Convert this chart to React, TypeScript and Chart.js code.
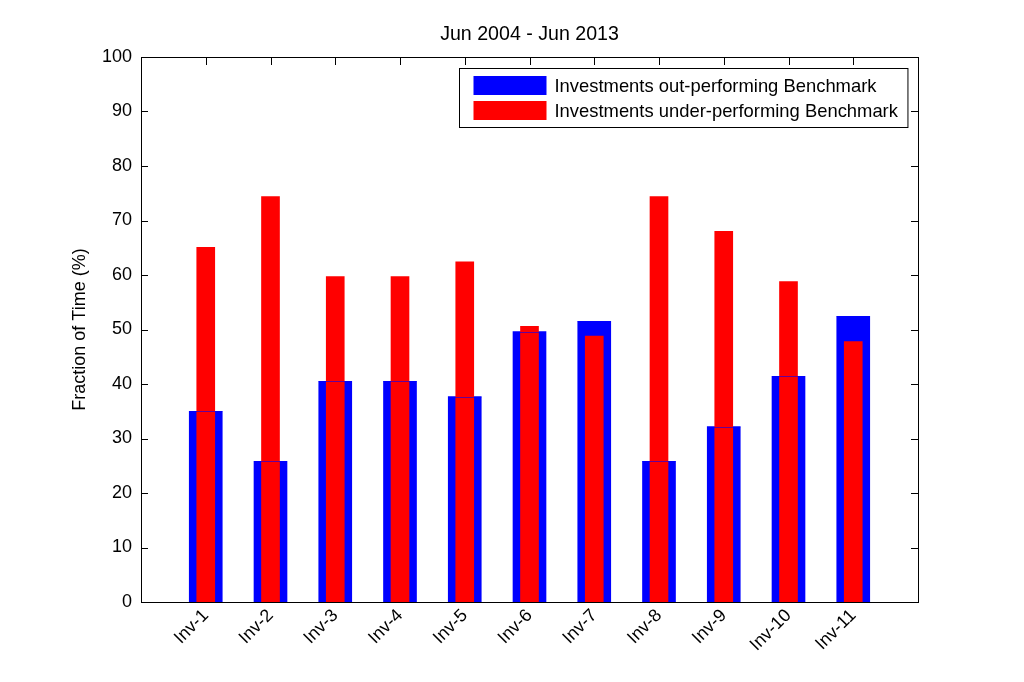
import { useEffect, useRef } from 'react';
import { Chart, registerables } from 'chart.js';

Chart.register(...registerables);

const chartTitle = 'Jun 2004 - Jun 2013';
const yAxisTitle = 'Fraction of Time (%)';
const categories = ['Inv-1', 'Inv-2', 'Inv-3', 'Inv-4', 'Inv-5', 'Inv-6', 'Inv-7', 'Inv-8', 'Inv-9', 'Inv-10', 'Inv-11'];
const outPerforming = [35.0, 25.8, 40.5, 40.5, 37.7, 49.6, 51.5, 25.8, 32.2, 41.4, 52.4];
const underPerforming = [65.1, 74.4, 59.7, 59.7, 62.4, 50.6, 48.8, 74.4, 68.0, 58.8, 47.8];
const seriesLabels = ['Investments out-performing Benchmark', 'Investments under-performing Benchmark'];
const yMin = 0;
const yMax = 100;
const yStep = 10;

const FONT = '"Liberation Sans", Arial, Helvetica, sans-serif';
const BLUE = '#0000ff';
const RED = '#ff0000';

const matlabPlugin = {
  id: 'matlabFrame',
  beforeDatasetsDraw(chart: any) {
    const { ctx, chartArea, scales } = chart;
    const { left, right, top, bottom } = chartArea;
    const x = scales.x;
    const y = scales.y;
    ctx.save();
    ctx.strokeStyle = '#000';
    ctx.lineWidth = 1;
    ctx.beginPath();
    y.ticks.forEach((t: any) => {
      const py = Math.round(y.getPixelForValue(t.value)) + 0.5;
      ctx.moveTo(left, py);
      ctx.lineTo(left + 7, py);
      ctx.moveTo(right, py);
      ctx.lineTo(right - 7, py);
    });
    categories.forEach((_c, i) => {
      const px = Math.round(x.getPixelForValue(i + 1)) + 0.5;
      ctx.moveTo(px, top);
      ctx.lineTo(px, top + 8);
      ctx.moveTo(px, bottom);
      ctx.lineTo(px, bottom - 8);
    });
    ctx.stroke();
    ctx.restore();
  },
  afterDatasetsDraw(chart: any) {
    const { ctx, chartArea } = chart;
    const { left, right, top, bottom } = chartArea;
    ctx.save();
    // top edge of the blue bars, drawn across the red bars
    const blueMeta = chart.getDatasetMeta(1);
    const blueData = chart.data.datasets[1].data;
    ctx.strokeStyle = 'rgba(0,0,255,0.6)';
    ctx.lineWidth = 1;
    ctx.beginPath();
    blueMeta.data.forEach((el: any, i: number) => {
      if (el == null || blueData[i] == null) return;
      const py = Math.round(el.y) + 0.5;
      ctx.moveTo(el.x - el.width / 2, py);
      ctx.lineTo(el.x + el.width / 2, py);
    });
    ctx.stroke();

    // axes box
    ctx.strokeStyle = '#000';
    ctx.lineWidth = 1;
    const l = Math.round(left) + 0.5;
    const r = Math.round(right) + 0.5;
    const t = Math.round(top) + 0.5;
    const b = Math.round(bottom) + 0.5;
    ctx.strokeRect(l, t, r - l, b - t);

    // title
    ctx.fillStyle = '#000';
    ctx.font = `19.6px ${FONT}`;
    ctx.textAlign = 'center';
    ctx.textBaseline = 'middle';
    ctx.fillText(chartTitle, (left + right) / 2, top - 22);

    // legend
    const items = [
      { label: chart.data.datasets[1].label, color: chart.data.datasets[1].backgroundColor },
      { label: chart.data.datasets[0].label, color: chart.data.datasets[0].backgroundColor },
    ];
    ctx.font = `18.4px ${FONT}`;
    const textW = Math.max(...items.map((it) => ctx.measureText(it.label).width));
    const padL = 14;
    const swW = 73;
    const swH = 19;
    const gap = 8;
    const padR = 10;
    const rowH = 25;
    const boxW = padL + swW + gap + textW + padR;
    const boxH = 59;
    const bx = Math.round(right - 11 - boxW) + 0.5;
    const by = Math.round(top + 11) + 0.5;
    ctx.fillStyle = '#fff';
    ctx.fillRect(bx, by, boxW, boxH);
    ctx.strokeStyle = '#000';
    ctx.strokeRect(bx, by, boxW, boxH);
    items.forEach((it, i) => {
      const cy = by + 17 + i * rowH;
      ctx.fillStyle = it.color;
      ctx.fillRect(bx + padL, cy - swH / 2, swW, swH);
      ctx.fillStyle = '#000';
      ctx.textAlign = 'left';
      ctx.textBaseline = 'middle';
      ctx.fillText(it.label, bx + padL + swW + gap, cy + 1);
    });
    ctx.restore();
  },
};

export default function App() {
  const canvasRef = useRef<HTMLCanvasElement | null>(null);

  useEffect(() => {
    document.body.style.margin = '0';
    const canvas = canvasRef.current;
    if (!canvas) return;
    const labels = ['', ...categories, ''];
    const chart = new Chart(canvas, {
      type: 'bar',
      data: {
        labels,
        datasets: [
          {
            label: seriesLabels[1],
            data: [null, ...underPerforming, null],
            backgroundColor: RED,
            barThickness: 18,
            grouped: false,
            order: 1,
          } as any,
          {
            label: seriesLabels[0],
            data: [null, ...outPerforming, null],
            backgroundColor: BLUE,
            barThickness: 33,
            grouped: false,
            order: 2,
          } as any,
        ],
      },
      options: {
        responsive: false,
        animation: false,
        layout: { padding: { top: 57, right: 106, bottom: 0, left: 0 } },
        plugins: {
          legend: { display: false },
          title: { display: false },
          tooltip: { enabled: false },
        },
        scales: {
          x: {
            type: 'category',
            offset: false,
            grid: { display: false, drawTicks: false },
            border: { display: false },
            ticks: {
              autoSkip: false,
              maxRotation: 45,
              minRotation: 45,
              padding: 3,
              color: '#000',
              font: { family: FONT, size: 18 },
            },
            afterFit: (s: any) => {
              s.height = 80;
            },
          },
          y: {
            min: yMin,
            max: yMax,
            ticks: {
              stepSize: yStep,
              padding: 9,
              color: '#000',
              font: { family: FONT, size: 18 },
            },
            grid: { display: false, drawTicks: false },
            border: { display: false },
            title: {
              display: true,
              text: yAxisTitle,
              color: '#000',
              font: { family: FONT, size: 18 },
              padding: { top: 69, bottom: 0 },
            },
            afterFit: (s: any) => {
              s.width = 141;
            },
          },
        },
      } as any,
      plugins: [matlabPlugin],
    });
    return () => chart.destroy();
  }, []);

  return (
    <div style={{ width: 1024, height: 682, background: '#fff' }}>
      <canvas ref={canvasRef} width={1024} height={682} style={{ display: 'block' }} />
    </div>
  );
}
